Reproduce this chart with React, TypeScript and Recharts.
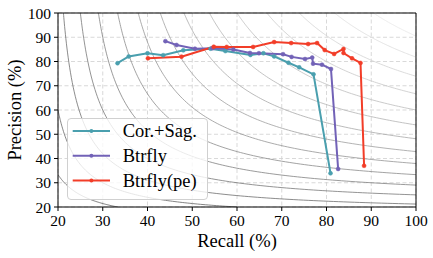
import React from 'react';
import { LineChart, Line, XAxis, YAxis, CartesianGrid, ReferenceLine } from 'recharts';

const X_TICKS = [20, 30, 40, 50, 60, 70, 80, 90, 100];
const Y_TICKS = [20, 30, 40, 50, 60, 70, 80, 90, 100];
const F_LEVELS = [25, 30, 35, 40, 45, 50, 55, 60, 65, 70, 75, 80, 85, 90, 95];

const SERIES_NAMES = ['Cor.+Sag.', 'Btrfly', 'Btrfly(pe)'];
const SERIES_COLORS = ['#4a9fae', '#7262b7', '#f23d28'];

const corSagRecall = [33.3, 35.8, 40.0, 43.5, 48.0, 54.1, 57.4, 63.0, 65.9, 68.3, 71.5, 73.9, 77.1, 80.9];
const corSagPrecision = [79.3, 82.1, 83.4, 82.6, 84.6, 85.3, 84.3, 82.7, 83.4, 82.1, 79.5, 77.6, 74.7, 33.9];

const btrflyRecall = [44.0, 46.5, 50.6, 54.5, 59.2, 62.9, 64.9, 70.3, 72.2, 75.2, 76.8, 77.0, 79.0, 81.0, 82.6];
const btrflyPrecision = [88.4, 86.8, 85.3, 85.5, 84.9, 83.5, 83.4, 83.0, 81.9, 81.0, 81.6, 79.1, 78.7, 76.9, 35.7];

const btrflyPeRecall = [40.1, 47.6, 54.8, 57.7, 63.6, 68.3, 72.1, 75.9, 77.9, 79.6, 81.7, 83.8, 83.8, 85.7, 87.6, 88.4];
const btrflyPePrecision = [81.3, 82.0, 86.1, 86.0, 86.0, 88.0, 87.6, 87.2, 87.6, 84.7, 83.1, 85.2, 83.5, 81.3, 79.4, 37.0];

const FONT = 'Liberation Serif, DejaVu Serif, serif';

const toPoints = (rs: number[], ps: number[]) => rs.map((r, i) => ({ r, p: ps[i] }));
const SERIES = [
  toPoints(corSagRecall, corSagPrecision),
  toPoints(btrflyRecall, btrflyPrecision),
  toPoints(btrflyPeRecall, btrflyPePrecision),
];

// iso-F1 curve: P = F R / (2R - F)
const isoCurve = (F: number) => {
  const rs = Math.max(20, (100 * F) / (200 - F));
  const re = F < 40 ? Math.min(100, (20 * F) / (40 - F)) : 100;
  const pts: { r: number; p: number }[] = [];
  const n = 120;
  for (let i = 0; i <= n; i++) {
    const t = i / n;
    const r = rs + (re - rs) * t * t;
    pts.push({ r, p: (F * r) / (2 * r - F) });
  }
  return pts;
};

const contourColor = (F: number) => {
  const g = Math.round(90 + ((F - 25) / 70) * 140);
  return `rgb(${g},${g},${g})`;
};

const tickStyle = { fill: '#000', fontSize: 15.5, fontFamily: FONT, style: { fontFamily: FONT } };

export default function App() {
  return (
    <div style={{ position: 'absolute', left: 0, top: 0, width: 433, height: 258, background: '#fff', fontFamily: FONT }}>
      <LineChart width={433} height={258} margin={{ top: 13, right: 17, left: 0, bottom: 0 }} style={{ fontFamily: FONT }}>
        <CartesianGrid stroke="#cfcfcf" strokeDasharray="4 2.5" strokeWidth={0.8} />
        <XAxis
          type="number"
          dataKey="r"
          domain={[20, 100]}
          ticks={X_TICKS}
          allowDataOverflow
          height={51}
          stroke="#000"
          tickSize={4}
          tickMargin={4}
          tick={tickStyle}
          label={{ value: 'Recall (%)', position: 'insideBottom', offset: 11, fill: '#000', fontSize: 18.5, fontFamily: FONT, style: { fontFamily: FONT } }}
        />
        <YAxis
          type="number"
          dataKey="p"
          domain={[20, 100]}
          ticks={Y_TICKS}
          allowDataOverflow
          width={58}
          stroke="#000"
          tickSize={4}
          tickMargin={3}
          tick={tickStyle}
          label={{ value: 'Precision (%)', angle: -90, position: 'insideLeft', offset: 14, fill: '#000', fontSize: 18.5, fontFamily: FONT, style: { textAnchor: 'middle', fontFamily: FONT } }}
        />
        {F_LEVELS.map((F) => (
          <Line
            key={'f' + F}
            data={isoCurve(F)}
            dataKey="p"
            type="linear"
            stroke={contourColor(F)}
            strokeWidth={0.8}
            dot={false}
            activeDot={false}
            isAnimationActive={false}
          />
        ))}
        <ReferenceLine x={100} stroke="#000" strokeWidth={1} />
        <ReferenceLine y={100} stroke="#000" strokeWidth={1} />
        {SERIES.map((d, i) => (
          <Line
            key={SERIES_NAMES[i]}
            data={d}
            dataKey="p"
            name={SERIES_NAMES[i]}
            type="linear"
            stroke={SERIES_COLORS[i]}
            strokeWidth={2}
            dot={{ r: 2, fill: SERIES_COLORS[i], stroke: SERIES_COLORS[i], strokeWidth: 0.5 }}
            activeDot={false}
            isAnimationActive={false}
          />
        ))}
      </LineChart>
      <svg
        width={141}
        height={82}
        style={{ position: 'absolute', left: 67, top: 118 }}
      >
        <rect x={0.5} y={0.5} width={140} height={81} rx={3.5} ry={3.5} fill="rgba(255,255,255,0.8)" stroke="#d0d0d0" strokeWidth={1} />
        {SERIES_NAMES.map((name, i) => {
          const cy = 13 + i * 24.8;
          return (
            <g key={name}>
              <line x1={5.7} x2={43} y1={cy} y2={cy} stroke={SERIES_COLORS[i]} strokeWidth={2} />
              <circle cx={24.4} cy={cy} r={2} fill={SERIES_COLORS[i]} />
              <text x={55.7} y={cy + 6.3} fontSize={18.5} fill="#000" style={{ fontFamily: FONT }}>
                {name}
              </text>
            </g>
          );
        })}
      </svg>
    </div>
  );
}
